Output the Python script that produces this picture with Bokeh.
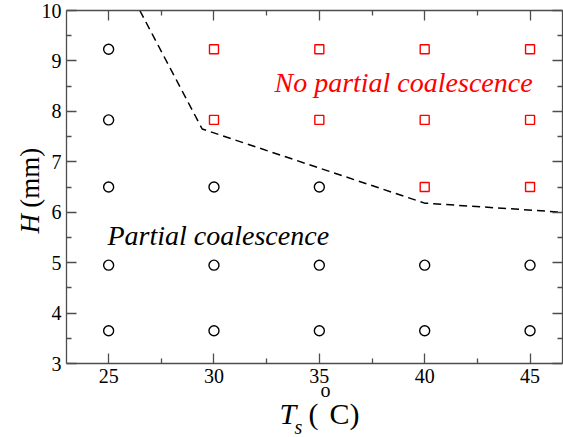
import math
from bokeh.plotting import figure
from bokeh.models import Range1d, LinearAxis, Label, FixedTicker
from bokeh.embed import file_html
from bokeh.resources import INLINE

# ---- data ----
circle_T = [25, 25, 25, 25, 25, 30, 30, 30, 35, 35, 35, 40, 40, 45, 45]
circle_H = [9.23, 7.83, 6.5, 4.95, 3.65, 6.5, 4.95, 3.65, 6.5, 4.95, 3.65, 4.95, 3.65, 4.95, 3.65]
square_T = [30, 30, 35, 35, 40, 40, 40, 45, 45, 45]
square_H = [9.23, 7.83, 9.23, 7.83, 9.23, 7.83, 6.5, 9.23, 7.83, 6.5]
boundary_T = [26.48, 29.44, 40.0, 46.54]
boundary_H = [10.0, 7.65, 6.18, 6.0]
x_ticks = [25, 30, 35, 40, 45]
x_minor = [27.5, 32.5, 37.5, 42.5]
y_ticks = [3, 4, 5, 6, 7, 8, 9, 10]
y_minor = [3.5, 4.5, 5.5, 6.5, 7.5, 8.5, 9.5]
x_lim = (23, 46.54)
y_lim = (3, 10)

SERIF = "Liberation Serif"
AX_COLOR = "#4d4d4d"
RED = "#ff0000"

# frame spans the whole canvas; the plot box is drawn by fixed-location axes
p = figure(width=563, height=437, output_backend="svg", toolbar_location=None,
           x_range=Range1d(19.868, 46.588), y_range=Range1d(1.533, 10.198),
           min_border=0, x_axis_type=None, y_axis_type=None,
           background_fill_color="white", border_fill_color="white")
p.grid.visible = False
p.outline_line_color = None


def make_axis(ticks, minor, loc, bounds, labels=True):
    ax = LinearAxis(ticker=FixedTicker(ticks=ticks, minor_ticks=minor),
                    fixed_location=loc, bounds=bounds)
    ax.axis_line_color = AX_COLOR
    ax.axis_line_width = 1.3
    ax.major_tick_line_color = AX_COLOR
    ax.minor_tick_line_color = AX_COLOR
    ax.major_tick_line_width = 1.3
    ax.minor_tick_line_width = 1.3
    ax.major_tick_in = 10
    ax.major_tick_out = 0
    ax.minor_tick_in = 5
    ax.minor_tick_out = 0
    ax.major_label_text_font = SERIF
    ax.major_label_text_font_size = "20px"
    ax.major_label_text_color = "black"
    ax.major_label_standoff = 5
    if not labels:
        ax.major_label_overrides = {t: "" for t in ticks}
        ax.major_label_standoff = 0
    return ax


p.add_layout(make_axis(x_ticks, x_minor, y_lim[0], x_lim), "below")
p.add_layout(make_axis(x_ticks, x_minor, y_lim[1], x_lim, labels=False), "above")
p.add_layout(make_axis(y_ticks, y_minor, x_lim[0], y_lim), "left")
p.add_layout(make_axis(y_ticks, y_minor, x_lim[1], y_lim, labels=False), "right")

# boundary line
p.line(boundary_T, boundary_H, line_color="black", line_width=1.5, line_dash="8 5")

# markers
p.scatter(circle_T, circle_H, marker="circle", size=10, fill_color=None,
          line_color="black", line_width=1.4)
p.scatter(square_T, square_H, marker="square", size=9, fill_color=None,
          line_color=RED, line_width=1.4)


def lab(x, y, t, size, italic=False, angle=0.0, color="black"):
    p.add_layout(Label(x=x, y=y, text=t, text_font=SERIF, text_font_size=size,
                       text_font_style="italic" if italic else "normal",
                       text_color=color, angle=angle, text_align="left",
                       text_baseline="alphabetic"))


# region labels
lab(24.946, 5.547, "Partial coalescence", "28px", italic=True)
lab(32.87, 8.581, "No partial coalescence", "28px", italic=True, color=RED)

# x axis title: T_s (°C)
lab(33.11, 2.008, "T", "30px", italic=True)
lab(33.82, 1.751, "s", "20px", italic=True)
lab(34.49, 2.008, "(", "30px")
lab(35.05, 2.465, "o", "20px")
lab(35.48, 2.008, "C)", "30px")

# y axis title: H (mm)
lab(21.25, 5.578, "H", "27px", italic=True, angle=math.pi / 2)
lab(21.25, 6.09, "(mm)", "27px", angle=math.pi / 2)

open("out.html", "w").write(file_html(p, INLINE))
